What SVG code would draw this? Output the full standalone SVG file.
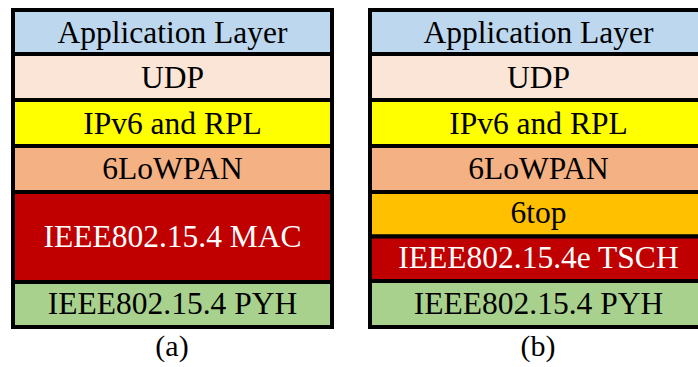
<svg xmlns="http://www.w3.org/2000/svg" width="698" height="367" viewBox="0 0 698 367">
  <style>
    .layer rect { stroke: #000; stroke-width: 4; stroke-linejoin: miter; }
    text { font-family: "Liberation Serif", "Times New Roman", serif; font-size: 31.5px; text-anchor: middle; fill: #000; }
    .light { fill: #fff; }
    .app rect { fill: #BDD7EE; }
    .udp rect { fill: #FBE5D6; }
    .ip rect { fill: #FFFF00; }
    .lowpan rect { fill: #F4B183; }
    .mac rect { fill: #C00000; }
    .sixtop rect { fill: #FFC000; }
    .phy rect { fill: #A9D18E; }
    .caption { font-size: 30px; }
  </style>
  <rect width="698" height="367" fill="#fff"/>

  <!-- (a) standard 6LoWPAN stack -->
  <g id="stack-a">
    <g id="a-app" class="layer app"><rect x="13" y="10" width="319" height="44"/><text x="172.5" y="43">Application Layer</text></g>
    <g id="a-udp" class="layer udp"><rect x="13" y="54" width="319" height="46"/><text x="172.5" y="88">UDP</text></g>
    <g id="a-ip" class="layer ip"><rect x="13" y="100" width="319" height="46"/><text x="172.5" y="133.5">IPv6 and RPL</text></g>
    <g id="a-lowpan" class="layer lowpan"><rect x="13" y="146" width="319" height="46"/><text x="172.5" y="178.5">6LoWPAN</text></g>
    <g id="a-mac" class="layer mac"><rect x="13" y="192" width="319" height="90"/><text class="light" x="172.5" y="246.7">IEEE802.15.4 MAC</text></g>
    <g id="a-phy" class="layer phy"><rect x="13" y="282" width="319" height="45"/><text x="172.5" y="314.3">IEEE802.15.4 PYH</text></g>
    <text id="caption-a" class="caption" x="172" y="356">(a)</text>
  </g>

  <!-- (b) 6TiSCH stack -->
  <g id="stack-b">
    <g id="b-app" class="layer app"><rect x="370" y="10" width="340" height="44"/><text x="538.5" y="43">Application Layer</text></g>
    <g id="b-udp" class="layer udp"><rect x="370" y="54" width="340" height="46"/><text x="538.5" y="88">UDP</text></g>
    <g id="b-ip" class="layer ip"><rect x="370" y="100" width="340" height="46"/><text x="538.5" y="133.5">IPv6 and RPL</text></g>
    <g id="b-lowpan" class="layer lowpan"><rect x="370" y="146" width="340" height="46"/><text x="538.5" y="178.5">6LoWPAN</text></g>
    <g id="b-6top" class="layer sixtop"><rect x="370" y="192" width="340" height="44.5"/><text x="538.5" y="223.3">6top</text></g>
    <g id="b-tsch" class="layer mac"><rect x="370" y="236.5" width="340" height="44.5"/><text class="light" x="538.5" y="268.3">IEEE802.15.4e TSCH</text></g>
    <g id="b-phy" class="layer phy"><rect x="370" y="281" width="340" height="46"/><text x="538.5" y="314.3">IEEE802.15.4 PYH</text></g>
    <text id="caption-b" class="caption" x="538" y="356">(b)</text>
  </g>
</svg>
